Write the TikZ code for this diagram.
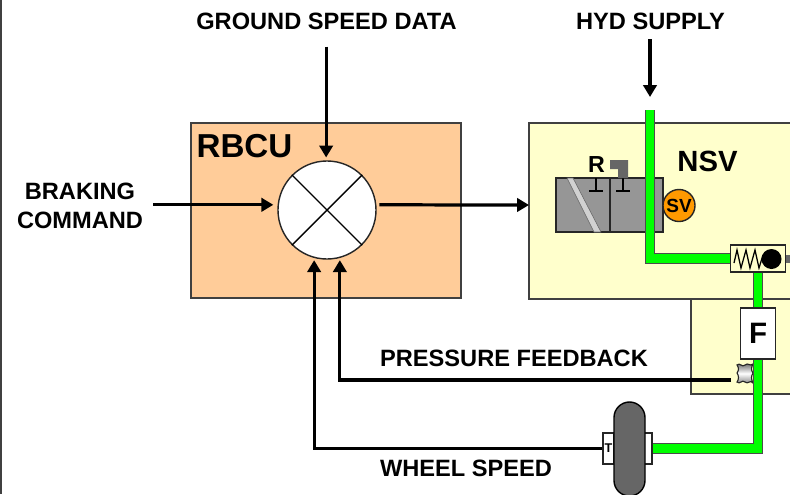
\documentclass[tikz,border=0pt]{standalone}
\usepackage{fontspec}
\setmainfont{Liberation Sans}
\usepackage{tikz}
\usetikzlibrary{arrows.meta}
\definecolor{rbcuorange}{HTML}{FFCC99}
\definecolor{nsvyellow}{HTML}{FFFFCC}
\definecolor{pipegreen}{HTML}{00FF00}
\definecolor{valvegray}{HTML}{969696}
\definecolor{wheelgray}{HTML}{666666}
\definecolor{svorange}{HTML}{FF9900}
\tikzset{
  lbl/.style={font=\bfseries\fontsize{16.8}{20.6}\selectfont, align=center, inner sep=0pt},
  box/.style={draw=black!75, line width=0.9pt},
  sig/.style={line width=2.3pt, -{Triangle[length=8.5pt,width=9.5pt]}},
  pipe/.style={draw=black!70, line width=0.6pt, double=pipegreen, double distance=6.1pt},
  part/.style={draw=black!85, fill=white, line width=1pt, inner sep=0pt}
}
\begin{document}
\begin{tikzpicture}[x=0.025cm, y=-0.025cm]
  \useasboundingbox (0,0) rectangle (790,494);
  \draw[black!75, line width=1.2pt] (1,0) -- (1,494);

  % Boxes
  \draw[box, fill=rbcuorange] (191,123) rectangle (461,298);
  \draw[box, fill=nsvyellow] (529,123) rectangle (795,299);
  \draw[box, fill=nsvyellow] (691,299) rectangle (795,394);
  \node[font=\bfseries\fontsize{23.6}{26}\selectfont, inner sep=0pt] (rbcu) at (244.5,146) {RBCU};
  \node[font=\bfseries\fontsize{20.8}{24}\selectfont, inner sep=0pt] (nsv) at (707.5,161) {NSV};

  % Summing junction
  \node[part, circle, minimum size=2.45cm] (mixer) at (327,210) {};
  \draw[line width=1pt] (mixer.45) -- (mixer.225);
  \draw[line width=1pt] (mixer.135) -- (mixer.315);

  % Solenoid valve
  \draw[black!85, fill=valvegray, line width=0.8pt] (556,178) rectangle (663,232);
  \draw[black!85, line width=0.8pt] (610,178) -- (610,232);
  \draw[black!60, fill=black!18, line width=0.4pt] (567,178) -- (573,178) -- (601,232) -- (594,232) -- cycle;
  \foreach \x in {596,623} {
    \draw[line width=1.5pt] (\x,178) -- (\x,191);
    \draw[line width=1.5pt] (\x-7,191) -- (\x+7,191);
  }
  \fill[wheelgray] (610,160) -- (628,160) -- (628,178) -- (618,178) -- (618,169) -- (610,169) -- cycle;
  \node[font=\bfseries\fontsize{16.5}{19}\selectfont, inner sep=0pt] (vent) at (596.5,165) {R};
  \node[part, circle, fill=svorange, minimum size=0.8cm, font=\bfseries\fontsize{13.5}{15}\selectfont] (sv) at (679,205.5) {SV};

  % Shuttle valve
  \fill[wheelgray] (785,255) rectangle (790,263);
  \node[part, fill=nsvyellow, minimum width=1.375cm, minimum height=0.675cm] (shuttle) at (758.2,258.5) {};
  \draw[line width=0.9pt] (734,263) -- (737,250) -- (741,268) -- (746,250) -- (750,268) -- (755,250) -- (759,268) -- (763,255);
  \fill (771.5,259) circle (10*0.025cm);

  % Filter, sensor and wheel
  \node[part, minimum width=0.875cm, minimum height=1.275cm, font=\bfseries\fontsize{21}{24}\selectfont] (filter) at (758.2,333.5) {F};
  \draw[black!85, line width=0.8pt, top color=black!65, bottom color=black!55, middle color=white]
    (737,365) .. controls (740,362) and (742,368) .. (745,365) .. controls (748,362) and (750,367) .. (753,364)
    .. controls (751,368) and (751,370) .. (753,373) .. controls (751,376) and (751,379) .. (753,383)
    .. controls (750,379) and (748,385) .. (745,382) .. controls (742,379) and (740,385) .. (737,382)
    .. controls (739,379) and (739,376) .. (737,373) .. controls (739,370) and (739,368) .. (737,365) -- cycle;
  \coordinate (sensor) at (731,380);
  \node[part, minimum width=0.275cm, minimum height=0.775cm, font=\bfseries\fontsize{9}{10}\selectfont] (tacho) at (608.5,448.5) {T};
  \node[part, minimum width=0.2cm, minimum height=0.775cm] (hub) at (648,448.5) {};
  \node[draw=black, line width=1pt, fill=wheelgray, rounded corners=0.39cm, inner sep=0pt,
    minimum width=0.775cm, minimum height=2.35cm] (wheel) at (629.5,449) {};

  % Labels
  \node[lbl] (gsdata) at (326.5,21) {GROUND SPEED DATA};
  \node[lbl] (hyd) at (650.5,21) {HYD SUPPLY};
  \node[lbl] (braking) at (80,206) {BRAKING\\COMMAND};
  \node[lbl] (pfb) at (514,358) {PRESSURE FEEDBACK};
  \node[lbl] (wspeed) at (466,468) {WHEEL SPEED};

  % Hydraulic lines
  \coordinate (pipetop) at (650,110);
  \draw[pipe] (pipetop) |- (shuttle.west);
  \draw[pipe] (shuttle.south) -- (filter.north);
  \draw[pipe] (filter.south) |- (hub.east);

  % Signals
  \coordinate (hydtip) at (650,97);
  \coordinate (nsvin) at (529,205);
  \draw[sig, shorten <=12pt, shorten >=2pt] (gsdata.south -| mixer.91) -- (mixer.91);
  \draw[sig, shorten <=7pt] (hyd.south -| hydtip) -- (hydtip);
  \draw[sig, shorten <=7pt, shorten >=3pt] (braking.east |- mixer.174) -- (mixer.174);
  \draw[sig, shorten <=2pt] (mixer.6) -- (nsvin);
  \draw[sig, shorten >=1.5pt] (sensor) -| (mixer.285);
  \draw[sig, shorten >=1.5pt] (tacho.west) -| (mixer.255);
\end{tikzpicture}
\end{document}
